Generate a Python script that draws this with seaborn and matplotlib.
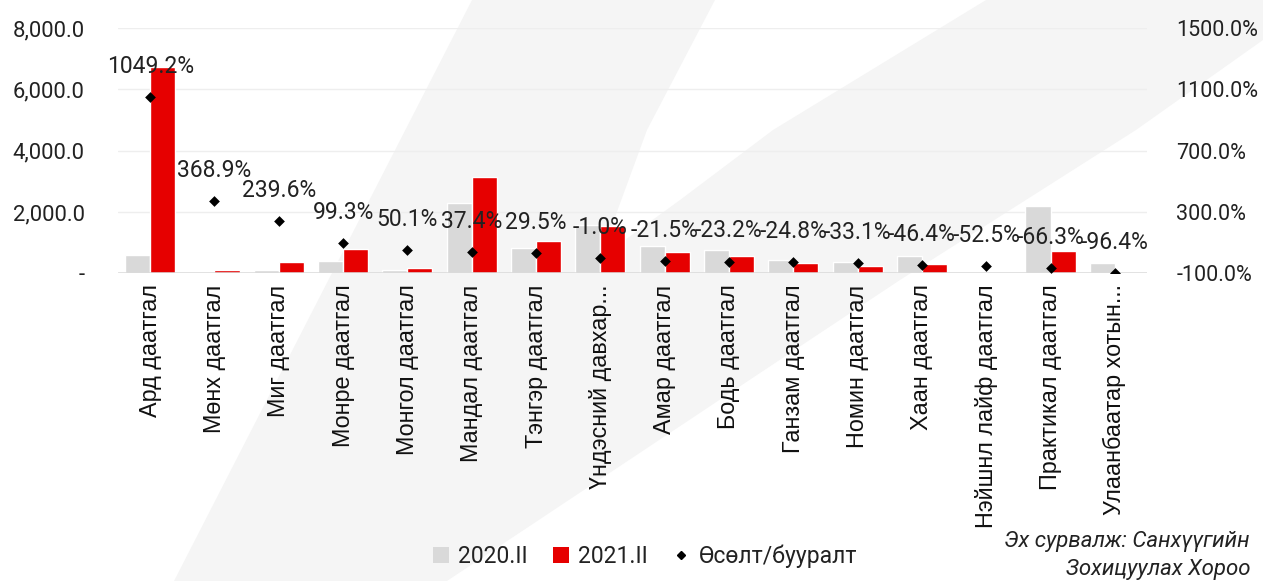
import numpy as np
import pandas as pd
import matplotlib
matplotlib.use('Agg')
import matplotlib.pyplot as plt
from matplotlib.patches import Polygon, Patch
from matplotlib.lines import Line2D
import seaborn as sns

# Chart data
categories = ['Ард даатгал', 'Мөнх даатгал', 'Миг даатгал', 'Монре даатгал',
              'Монгол даатгал', 'Мандал даатгал', 'Тэнгэр даатгал', 'Үндэсний давхар...',
              'Амар даатгал', 'Бодь даатгал', 'Ганзам даатгал', 'Номин даатгал',
              'Хаан даатгал', 'Нэйшнл лайф даатгал', 'Практикал даатгал', 'Улаанбаатар хотын...']
values_2020 = [585, 23, 109, 398, 109, 2284, 814, 1560, 891, 745, 435, 365, 580, 45, 2190, 326]
values_2021 = [6723, 108, 369, 793, 163, 3138, 1054, 1545, 699, 572, 327, 244, 311, 21, 738, 12]
growth = [1049.2, 368.9, 239.6, 99.3, 50.1, 37.4, 29.5, -1.0, -21.5, -23.2,
          -24.8, -33.1, -46.4, -52.5, -66.3, -96.4]
series_names = ['2020.II', '2021.II']
growth_name = 'Өсөлт/бууралт'
left_ticks = [0, 2000, 4000, 6000, 8000]
right_ticks = [-100, 300, 700, 1100, 1500]
source_text = 'Эх сурвалж: Санхүүгийн\nЗохицуулах Хороо'

GRAY = '#d9d9d9'
RED = '#e60000'
TEXT = '#222222'
NUM_FONT = ['Roboto', 'DejaVu Sans']
LABEL_FONT = ['Liberation Sans', 'DejaVu Sans']

W, H = 1263, 581


def px(x, y):
    # pixel (from top-left) -> figure fraction
    return (x / W, 1 - y / H)


def draw_background(fig):
    # faint swoosh shape behind the chart
    pts = [(472, 0), (715, 0), (647, 130), (600, 258), (680, 200), (773, 130), (986, 0),
           (1263, 0), (1263, 40), (1136, 130), (900, 280), (447, 581), (174, 581)]
    poly = Polygon([px(x, y) for x, y in pts], closed=True, transform=fig.transFigure,
                   facecolor='#f5f5f5', edgecolor='none', zorder=-10)
    fig.patches.append(poly)


def main():
    sns.set_theme(style='white')
    plt.rcParams['font.family'] = NUM_FONT

    fig = plt.figure(figsize=(W / 100, H / 100), dpi=100)
    fig.patch.set_facecolor('white')
    draw_background(fig)

    ax = fig.add_axes([118 / W, 1 - 273.3 / H, (1147 - 118) / W, (273.3 - 28) / H])
    ax.patch.set_alpha(0)

    df = pd.DataFrame({
        'category': categories * 2,
        'period': [series_names[0]] * len(categories) + [series_names[1]] * len(categories),
        'value': values_2020 + values_2021,
    })
    sns.barplot(data=df, x='category', y='value', hue='period', palette=[GRAY, RED],
                width=0.78, saturation=1, errorbar=None, legend=False, ax=ax, zorder=2)

    ax.set_ylim(0, 8000)
    ax.set_xlim(-0.5, len(categories) - 0.5)
    ax.set_yticks(left_ticks)
    ax.set_yticklabels(['-' if t == 0 else f'{t:,.1f}' for t in left_ticks],
                       fontsize=15.8, color=TEXT)
    ax.tick_params(axis='y', length=0, pad=24)
    ax.tick_params(axis='x', length=0, pad=8)
    ax.set_xticks(range(len(categories)))
    ax.set_xticklabels(categories, rotation=90, fontsize=16.8, color='#111111',
                       family=LABEL_FONT, va='top', ha='center')
    ax.set_xlabel('')
    ax.set_ylabel('')
    for t in left_ticks[1:]:
        ax.axhline(t, color='#eeeeee', lw=1, zorder=0)
    for s in ax.spines.values():
        s.set_visible(False)
    ax.axhline(0, color=GRAY, lw=1.8, zorder=3)

    # growth on secondary axis
    ax2 = ax.twinx()
    ax2.patch.set_alpha(0)
    sns.scatterplot(x=np.arange(len(categories)), y=growth, ax=ax2, marker='D',
                    s=30, color='black', edgecolor='black', linewidth=0, zorder=5)
    ax2.set_ylim(-100, 1500)
    ax2.set_yticks(right_ticks)
    ax2.set_yticklabels([f'{t:.1f}%' for t in right_ticks], fontsize=15.5, color=TEXT)
    ax2.tick_params(axis='y', length=0, pad=21)
    ax2.grid(False)
    for s in ax2.spines.values():
        s.set_visible(False)
    for i, g in enumerate(growth):
        ax2.annotate(f'{g:.1f}%', (i, g), xytext=(0, 22), textcoords='offset points',
                     ha='center', va='center', fontsize=16.5, color=TEXT, zorder=6)

    # legend
    handles = [Patch(facecolor=GRAY, edgecolor='none', label=series_names[0]),
               Patch(facecolor=RED, edgecolor='none', label=series_names[1]),
               Line2D([], [], marker='D', color='black', linestyle='none',
                      markersize=4, label=growth_name)]
    fig.legend(handles=handles, loc='center', bbox_to_anchor=px(645, 556), ncol=3,
               frameon=False, fontsize=16.5, handlelength=0.7, handleheight=0.7,
               handletextpad=0.4, columnspacing=1.1, labelcolor=TEXT)

    # source note
    fig.text(1250 / W, 1 - 531 / H, source_text, ha='right', va='top', fontsize=16,
             style='italic', color=TEXT, linespacing=1.45, multialignment='right')

    fig.savefig('out.png', dpi=100)


if __name__ == '__main__':
    main()
